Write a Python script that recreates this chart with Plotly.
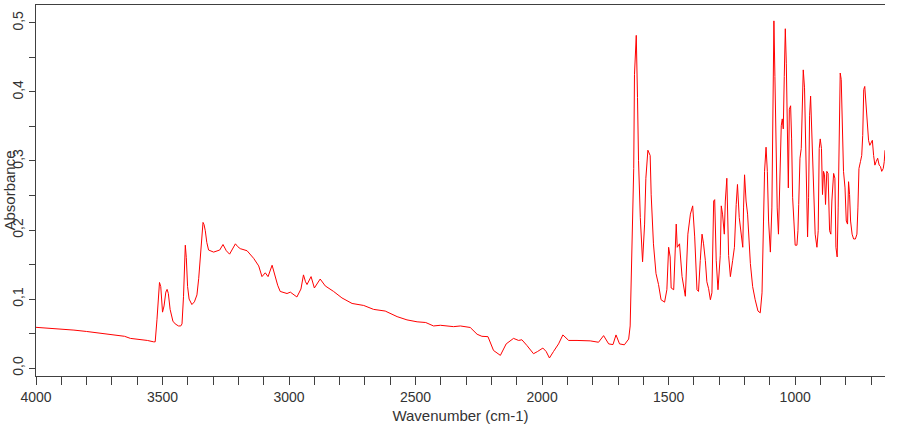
import plotly.graph_objects as go

wavenumber = [4000, 3950, 3900, 3850, 3800, 3750, 3700, 3650, 3627, 3600, 3560, 3535, 3529, 3522, 3515, 3512, 3507, 3500, 3494, 3487, 3482, 3477, 3470, 3459, 3450, 3437, 3428, 3423, 3417, 3413, 3410, 3406, 3401, 3395, 3384, 3374, 3364, 3357, 3351, 3345, 3340, 3336, 3331, 3325, 3318, 3298, 3274, 3261, 3248, 3235, 3224, 3212, 3203, 3193, 3166, 3140, 3120, 3107, 3094, 3083, 3067, 3058, 3045, 3035, 3008, 2995, 2969, 2953, 2943, 2935, 2929, 2913, 2900, 2877, 2857, 2824, 2791, 2751, 2705, 2666, 2620, 2573, 2534, 2494, 2460, 2429, 2402, 2350, 2323, 2284, 2257, 2238, 2214, 2192, 2165, 2142, 2113, 2093, 2080, 2060, 2034, 2018, 1997, 1984, 1971, 1955, 1935, 1918, 1895, 1862, 1810, 1777, 1757, 1737, 1720, 1708, 1694, 1675, 1658, 1652, 1645, 1638, 1635, 1628, 1623, 1619, 1612, 1603, 1595, 1590, 1582, 1573, 1569, 1560, 1550, 1540, 1530, 1516, 1507, 1500, 1494, 1490, 1480, 1474, 1470, 1466, 1457, 1447, 1434, 1424, 1414, 1405, 1397, 1388, 1382, 1375, 1368, 1362, 1355, 1349, 1342, 1335, 1329, 1322, 1318, 1312, 1305, 1296, 1292, 1287, 1280, 1276, 1270, 1263, 1256, 1247, 1240, 1233, 1228, 1221, 1213, 1207, 1204, 1200, 1194, 1188, 1177, 1168, 1158, 1147, 1138, 1131, 1125, 1121, 1115, 1110, 1105, 1098, 1092, 1088, 1084, 1080, 1076, 1071, 1066, 1060, 1055, 1051, 1047, 1043, 1039, 1035, 1031, 1027, 1023, 1018, 1014, 1010, 1005, 1000, 993, 989, 986, 981, 976, 973, 968, 963, 959, 955, 951, 947, 943, 939, 935, 930, 926, 921, 914, 909, 905, 901, 896, 892, 888, 884, 880, 875, 870, 864, 859, 855, 848, 843, 839, 834, 830, 826, 822, 818, 814, 809, 803, 798, 793, 789, 785, 781, 775, 769, 762, 756, 752, 748, 742, 737, 733, 729, 725, 721, 716, 710, 705, 700, 695, 690, 685, 680, 674, 668, 663, 658, 652, 648, 645]

absorbance = [0.059, 0.058, 0.057, 0.055, 0.053, 0.051, 0.049, 0.046, 0.043, 0.042, 0.040, 0.038, 0.038, 0.070, 0.110, 0.124, 0.118, 0.081, 0.090, 0.110, 0.114, 0.108, 0.085, 0.068, 0.064, 0.061, 0.061, 0.064, 0.104, 0.150, 0.178, 0.160, 0.118, 0.100, 0.092, 0.096, 0.106, 0.130, 0.161, 0.195, 0.211, 0.208, 0.199, 0.182, 0.171, 0.168, 0.171, 0.179, 0.170, 0.165, 0.172, 0.180, 0.176, 0.173, 0.170, 0.159, 0.148, 0.1325, 0.138, 0.1325, 0.149, 0.137, 0.120, 0.111, 0.108, 0.110, 0.103, 0.1145, 0.135, 0.125, 0.121, 0.1325, 0.116, 0.129, 0.119, 0.111, 0.1016, 0.0936, 0.0907, 0.085, 0.0826, 0.0745, 0.0698, 0.067, 0.066, 0.061, 0.062, 0.060, 0.061, 0.0588, 0.049, 0.046, 0.0455, 0.0255, 0.0184, 0.035, 0.043, 0.040, 0.041, 0.0327, 0.0208, 0.024, 0.029, 0.024, 0.0146, 0.024, 0.035, 0.048, 0.040, 0.040, 0.0394, 0.0374, 0.047, 0.035, 0.034, 0.048, 0.035, 0.0337, 0.042, 0.061, 0.199, 0.289, 0.425, 0.482, 0.392, 0.301, 0.218, 0.154, 0.2086, 0.275, 0.3156, 0.308, 0.251, 0.180, 0.137, 0.121, 0.099, 0.0955, 0.1135, 0.175, 0.161, 0.116, 0.1135, 0.175, 0.2086, 0.175, 0.180, 0.1325, 0.104, 0.194, 0.223, 0.235, 0.190, 0.1135, 0.111, 0.156, 0.194, 0.180, 0.156, 0.125, 0.115, 0.099, 0.109, 0.242, 0.244, 0.156, 0.1135, 0.163, 0.235, 0.223, 0.194, 0.242, 0.275, 0.163, 0.1325, 0.156, 0.175, 0.237, 0.266, 0.218, 0.190, 0.175, 0.232, 0.280, 0.242, 0.223, 0.1515, 0.118, 0.099, 0.0826, 0.080, 0.109, 0.213, 0.285, 0.320, 0.285, 0.213, 0.168, 0.232, 0.394, 0.503, 0.4225, 0.337, 0.232, 0.194, 0.285, 0.351, 0.361, 0.3465, 0.4225, 0.4916, 0.4417, 0.351, 0.261, 0.375, 0.380, 0.332, 0.2467, 0.213, 0.178, 0.178, 0.199, 0.237, 0.304, 0.318, 0.368, 0.432, 0.406, 0.3275, 0.2467, 0.190, 0.2467, 0.3655, 0.394, 0.351, 0.294, 0.232, 0.194, 0.175, 0.199, 0.318, 0.332, 0.318, 0.2514, 0.285, 0.280, 0.237, 0.285, 0.282, 0.199, 0.194, 0.242, 0.282, 0.275, 0.175, 0.161, 0.232, 0.361, 0.4274, 0.418, 0.361, 0.285, 0.261, 0.213, 0.2086, 0.270, 0.2514, 0.213, 0.194, 0.187, 0.187, 0.194, 0.232, 0.289, 0.299, 0.308, 0.337, 0.4036, 0.408, 0.3846, 0.3536, 0.330, 0.3227, 0.3275, 0.330, 0.308, 0.294, 0.299, 0.304, 0.294, 0.292, 0.285, 0.289, 0.299, 0.3156]

x_title = "Wavenumber (cm-1)"
y_title = "Absorbance"

axis_color = "#404040"
text_color = "#333333"
font_family = "Liberation Sans, Arial, sans-serif"

fig = go.Figure()
fig.add_trace(go.Scatter(x=wavenumber, y=absorbance, mode="lines",
                         line=dict(color="#ff0000", width=1), showlegend=False,
                         hoverinfo="skip"))

fig.update_layout(
    width=900, height=425,
    margin=dict(l=36, r=15, t=4, b=44),
    paper_bgcolor="white", plot_bgcolor="white",
    separators=",.",
    font=dict(family=font_family, size=14, color=text_color),
    xaxis=dict(
        range=[4000, 645], autorange=False,
        showgrid=False, zeroline=False,
        showline=True, linecolor=axis_color, linewidth=1, mirror=True,
        ticks="outside", ticklen=8, tickcolor=axis_color, tickwidth=1,
        tick0=0, dtick=500,
        minor=dict(dtick=100, ticks="outside", ticklen=8, tickcolor=axis_color, showgrid=False),
        tickfont=dict(size=14, color=text_color),
        title=dict(text=x_title, font=dict(size=15, color=text_color), standoff=6),
    ),
    yaxis=dict(
        range=[-0.0115, 0.526], autorange=False,
        showgrid=False, zeroline=False,
        showline=True, linecolor=axis_color, linewidth=1,
        ticks="outside", ticklen=6, tickcolor=axis_color, tickwidth=1,
        tick0=0, dtick=0.1, tickformat=".1f", tickangle=-90,
        minor=dict(dtick=0.05, ticks="outside", ticklen=6, tickcolor=axis_color, showgrid=False),
        tickfont=dict(size=14, color=text_color),
    ),
    annotations=[dict(
        text=y_title, textangle=-90, xref="paper", yref="paper",
        x=0, y=0.5, xanchor="center", yanchor="middle", xshift=-27,
        showarrow=False, font=dict(size=15, color=text_color),
    )],
)

fig.write_html("out.html",
               config={"displayModeBar": False, "staticPlot": True},
               post_script="document.body.style.margin='0';document.body.style.overflow='hidden';")
